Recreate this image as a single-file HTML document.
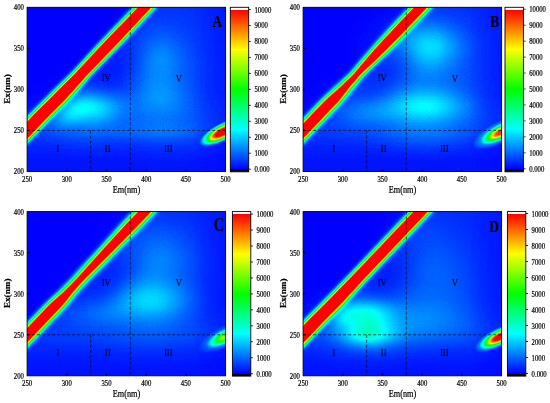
<!DOCTYPE html>
<html><head><meta charset="utf-8"><title>EEM fluorescence spectra</title>
<style>
html,body{margin:0;padding:0;background:#fff}
svg{display:block}
text{font-family:"Liberation Serif",serif;fill:#000;stroke:#000;stroke-width:0.22px}
.tk text{font-size:8px}
.xl{font-size:9.8px}
.yl{font-size:9.2px;font-weight:bold}
.rg text{font-size:10.3px;stroke-width:0.08px}
.pl{font-size:17px;font-weight:bold;stroke-width:0.1px}
</style></head><body>
<svg width="550" height="403" viewBox="0 0 550 403">
<defs>
<filter id="cm" filterUnits="userSpaceOnUse" x="-20" y="-30" width="300" height="250" color-interpolation-filters="sRGB">
<feComponentTransfer>
<feFuncR type="table" tableValues="0 0 0 1 1"/>
<feFuncG type="table" tableValues="0 1 1 1 0"/>
<feFuncB type="table" tableValues="1 1 0 0 0"/>
<feFuncA type="linear" slope="0" intercept="1"/>
</feComponentTransfer>
</filter>
<filter id="bf" filterUnits="userSpaceOnUse" x="-20" y="-30" width="300" height="250" color-interpolation-filters="sRGB">
<feGaussianBlur stdDeviation="1.9"/>
<feComponentTransfer><feFuncA type="linear" slope="1.5"/></feComponentTransfer>
</filter>
<linearGradient id="dkb" x1="0" y1="0" x2="0" y2="1"><stop offset="0" stop-color="#000" stop-opacity="0"/><stop offset="0.6" stop-color="#000" stop-opacity="0.5"/><stop offset="1" stop-color="#000" stop-opacity="0.6"/></linearGradient>
<linearGradient id="dkr" x1="0" y1="0" x2="1" y2="0"><stop offset="0" stop-color="#000" stop-opacity="0"/><stop offset="0.8" stop-color="#000" stop-opacity="0.4"/><stop offset="1" stop-color="#000" stop-opacity="0.4"/></linearGradient>
<clipPath id="plotclip"><rect x="27.1" y="7.3" width="198.5" height="164.2"/></clipPath>
<linearGradient id="cbA" x1="0" y1="0" x2="0" y2="1"><stop offset="0.0000" stop-color="#fff"/><stop offset="0.0152" stop-color="#fff"/><stop offset="0.0152" stop-color="#f00"/><stop offset="0.2561" stop-color="#ff0"/><stop offset="0.4988" stop-color="#0f0"/><stop offset="0.7415" stop-color="#0ff"/><stop offset="0.9842" stop-color="#00f"/><stop offset="0.9842" stop-color="#000"/><stop offset="1.0000" stop-color="#000"/></linearGradient>
<linearGradient id="cbB" x1="0" y1="0" x2="0" y2="1"><stop offset="0.0000" stop-color="#fff"/><stop offset="0.0134" stop-color="#fff"/><stop offset="0.0134" stop-color="#f00"/><stop offset="0.2541" stop-color="#ff0"/><stop offset="0.4967" stop-color="#0f0"/><stop offset="0.7392" stop-color="#0ff"/><stop offset="0.9818" stop-color="#00f"/><stop offset="0.9818" stop-color="#000"/><stop offset="1.0000" stop-color="#000"/></linearGradient>
<linearGradient id="cbC" x1="0" y1="0" x2="0" y2="1"><stop offset="0.0000" stop-color="#fff"/><stop offset="0.0170" stop-color="#fff"/><stop offset="0.0170" stop-color="#f00"/><stop offset="0.2578" stop-color="#ff0"/><stop offset="0.5003" stop-color="#0f0"/><stop offset="0.7429" stop-color="#0ff"/><stop offset="0.9854" stop-color="#00f"/><stop offset="0.9854" stop-color="#000"/><stop offset="1.0000" stop-color="#000"/></linearGradient>
<linearGradient id="cbD" x1="0" y1="0" x2="0" y2="1"><stop offset="0.0000" stop-color="#fff"/><stop offset="0.0134" stop-color="#fff"/><stop offset="0.0134" stop-color="#f00"/><stop offset="0.2547" stop-color="#ff0"/><stop offset="0.4979" stop-color="#0f0"/><stop offset="0.7410" stop-color="#0ff"/><stop offset="0.9842" stop-color="#00f"/><stop offset="0.9842" stop-color="#000"/><stop offset="1.0000" stop-color="#000"/></linearGradient>

<radialGradient id="g1"><stop offset="0" stop-color="#fff" stop-opacity="0.035"/><stop offset="0.1" stop-color="#fff" stop-opacity="0.0338"/><stop offset="0.2" stop-color="#fff" stop-opacity="0.0304"/><stop offset="0.3" stop-color="#fff" stop-opacity="0.0255"/><stop offset="0.4" stop-color="#fff" stop-opacity="0.0199"/><stop offset="0.5" stop-color="#fff" stop-opacity="0.0143"/><stop offset="0.6" stop-color="#fff" stop-opacity="0.0095"/><stop offset="0.7" stop-color="#fff" stop-opacity="0.0057"/><stop offset="0.8" stop-color="#fff" stop-opacity="0.0029"/><stop offset="0.9" stop-color="#fff" stop-opacity="0.0011"/><stop offset="1" stop-color="#fff" stop-opacity="0"/></radialGradient>
<radialGradient id="g2"><stop offset="0" stop-color="#fff" stop-opacity="0.07"/><stop offset="0.1" stop-color="#fff" stop-opacity="0.0676"/><stop offset="0.2" stop-color="#fff" stop-opacity="0.0608"/><stop offset="0.3" stop-color="#fff" stop-opacity="0.051"/><stop offset="0.4" stop-color="#fff" stop-opacity="0.0397"/><stop offset="0.5" stop-color="#fff" stop-opacity="0.0287"/><stop offset="0.6" stop-color="#fff" stop-opacity="0.019"/><stop offset="0.7" stop-color="#fff" stop-opacity="0.0114"/><stop offset="0.8" stop-color="#fff" stop-opacity="0.0059"/><stop offset="0.9" stop-color="#fff" stop-opacity="0.0022"/><stop offset="1" stop-color="#fff" stop-opacity="0"/></radialGradient>
<radialGradient id="g3"><stop offset="0" stop-color="#fff" stop-opacity="0.16"/><stop offset="0.1" stop-color="#fff" stop-opacity="0.1545"/><stop offset="0.2" stop-color="#fff" stop-opacity="0.1391"/><stop offset="0.3" stop-color="#fff" stop-opacity="0.1166"/><stop offset="0.4" stop-color="#fff" stop-opacity="0.0908"/><stop offset="0.5" stop-color="#fff" stop-opacity="0.0655"/><stop offset="0.6" stop-color="#fff" stop-opacity="0.0434"/><stop offset="0.7" stop-color="#fff" stop-opacity="0.026"/><stop offset="0.8" stop-color="#fff" stop-opacity="0.0134"/><stop offset="0.9" stop-color="#fff" stop-opacity="0.0051"/><stop offset="1" stop-color="#fff" stop-opacity="0"/></radialGradient>
<radialGradient id="g4"><stop offset="0" stop-color="#fff" stop-opacity="0.08"/><stop offset="0.1" stop-color="#fff" stop-opacity="0.0772"/><stop offset="0.2" stop-color="#fff" stop-opacity="0.0695"/><stop offset="0.3" stop-color="#fff" stop-opacity="0.0583"/><stop offset="0.4" stop-color="#fff" stop-opacity="0.0454"/><stop offset="0.5" stop-color="#fff" stop-opacity="0.0328"/><stop offset="0.6" stop-color="#fff" stop-opacity="0.0217"/><stop offset="0.7" stop-color="#fff" stop-opacity="0.013"/><stop offset="0.8" stop-color="#fff" stop-opacity="0.0067"/><stop offset="0.9" stop-color="#fff" stop-opacity="0.0025"/><stop offset="1" stop-color="#fff" stop-opacity="0"/></radialGradient>
<radialGradient id="g5"><stop offset="0" stop-color="#fff" stop-opacity="0.05"/><stop offset="0.1" stop-color="#fff" stop-opacity="0.0483"/><stop offset="0.2" stop-color="#fff" stop-opacity="0.0435"/><stop offset="0.3" stop-color="#fff" stop-opacity="0.0364"/><stop offset="0.4" stop-color="#fff" stop-opacity="0.0284"/><stop offset="0.5" stop-color="#fff" stop-opacity="0.0205"/><stop offset="0.6" stop-color="#fff" stop-opacity="0.0136"/><stop offset="0.7" stop-color="#fff" stop-opacity="0.0081"/><stop offset="0.8" stop-color="#fff" stop-opacity="0.0042"/><stop offset="0.9" stop-color="#fff" stop-opacity="0.0016"/><stop offset="1" stop-color="#fff" stop-opacity="0"/></radialGradient>
<radialGradient id="g6"><stop offset="0" stop-color="#fff" stop-opacity="0.065"/><stop offset="0.1" stop-color="#fff" stop-opacity="0.0628"/><stop offset="0.2" stop-color="#fff" stop-opacity="0.0565"/><stop offset="0.3" stop-color="#fff" stop-opacity="0.0474"/><stop offset="0.4" stop-color="#fff" stop-opacity="0.0369"/><stop offset="0.5" stop-color="#fff" stop-opacity="0.0266"/><stop offset="0.6" stop-color="#fff" stop-opacity="0.0176"/><stop offset="0.7" stop-color="#fff" stop-opacity="0.0106"/><stop offset="0.8" stop-color="#fff" stop-opacity="0.0054"/><stop offset="0.9" stop-color="#fff" stop-opacity="0.0021"/><stop offset="1" stop-color="#fff" stop-opacity="0"/></radialGradient>
<radialGradient id="g7"><stop offset="0" stop-color="#fff" stop-opacity="0.065"/><stop offset="0.1" stop-color="#fff" stop-opacity="0.0628"/><stop offset="0.2" stop-color="#fff" stop-opacity="0.0565"/><stop offset="0.3" stop-color="#fff" stop-opacity="0.0474"/><stop offset="0.4" stop-color="#fff" stop-opacity="0.0369"/><stop offset="0.5" stop-color="#fff" stop-opacity="0.0266"/><stop offset="0.6" stop-color="#fff" stop-opacity="0.0176"/><stop offset="0.7" stop-color="#fff" stop-opacity="0.0106"/><stop offset="0.8" stop-color="#fff" stop-opacity="0.0054"/><stop offset="0.9" stop-color="#fff" stop-opacity="0.0021"/><stop offset="1" stop-color="#fff" stop-opacity="0"/></radialGradient>
<radialGradient id="g8"><stop offset="0" stop-color="#fff" stop-opacity="0.03"/><stop offset="0.1" stop-color="#fff" stop-opacity="0.029"/><stop offset="0.2" stop-color="#fff" stop-opacity="0.0261"/><stop offset="0.3" stop-color="#fff" stop-opacity="0.0219"/><stop offset="0.4" stop-color="#fff" stop-opacity="0.017"/><stop offset="0.5" stop-color="#fff" stop-opacity="0.0123"/><stop offset="0.6" stop-color="#fff" stop-opacity="0.0081"/><stop offset="0.7" stop-color="#fff" stop-opacity="0.0049"/><stop offset="0.8" stop-color="#fff" stop-opacity="0.0025"/><stop offset="0.9" stop-color="#fff" stop-opacity="0.001"/><stop offset="1" stop-color="#fff" stop-opacity="0"/></radialGradient>
<radialGradient id="g9"><stop offset="0" stop-color="#000" stop-opacity="0.4"/><stop offset="0.1" stop-color="#000" stop-opacity="0.3862"/><stop offset="0.2" stop-color="#000" stop-opacity="0.3476"/><stop offset="0.3" stop-color="#000" stop-opacity="0.2914"/><stop offset="0.4" stop-color="#000" stop-opacity="0.227"/><stop offset="0.5" stop-color="#000" stop-opacity="0.1638"/><stop offset="0.6" stop-color="#000" stop-opacity="0.1085"/><stop offset="0.7" stop-color="#000" stop-opacity="0.0649"/><stop offset="0.8" stop-color="#000" stop-opacity="0.0335"/><stop offset="0.9" stop-color="#000" stop-opacity="0.0127"/><stop offset="1" stop-color="#000" stop-opacity="0"/></radialGradient>
<radialGradient id="g10"><stop offset="0" stop-color="#fff" stop-opacity="1"/><stop offset="0.32" stop-color="#fff" stop-opacity="1"/><stop offset="0.44" stop-color="#fff" stop-opacity="0.86"/><stop offset="0.56" stop-color="#fff" stop-opacity="0.62"/><stop offset="0.68" stop-color="#fff" stop-opacity="0.4"/><stop offset="0.8" stop-color="#fff" stop-opacity="0.22"/><stop offset="0.9" stop-color="#fff" stop-opacity="0.1"/><stop offset="1" stop-color="#fff" stop-opacity="0"/></radialGradient>
<radialGradient id="g11"><stop offset="0" stop-color="#fff" stop-opacity="0.03"/><stop offset="0.1" stop-color="#fff" stop-opacity="0.029"/><stop offset="0.2" stop-color="#fff" stop-opacity="0.0261"/><stop offset="0.3" stop-color="#fff" stop-opacity="0.0219"/><stop offset="0.4" stop-color="#fff" stop-opacity="0.017"/><stop offset="0.5" stop-color="#fff" stop-opacity="0.0123"/><stop offset="0.6" stop-color="#fff" stop-opacity="0.0081"/><stop offset="0.7" stop-color="#fff" stop-opacity="0.0049"/><stop offset="0.8" stop-color="#fff" stop-opacity="0.0025"/><stop offset="0.9" stop-color="#fff" stop-opacity="0.001"/><stop offset="1" stop-color="#fff" stop-opacity="0"/></radialGradient>
<radialGradient id="g12"><stop offset="0" stop-color="#fff" stop-opacity="0.03"/><stop offset="0.1" stop-color="#fff" stop-opacity="0.029"/><stop offset="0.2" stop-color="#fff" stop-opacity="0.0261"/><stop offset="0.3" stop-color="#fff" stop-opacity="0.0219"/><stop offset="0.4" stop-color="#fff" stop-opacity="0.017"/><stop offset="0.5" stop-color="#fff" stop-opacity="0.0123"/><stop offset="0.6" stop-color="#fff" stop-opacity="0.0081"/><stop offset="0.7" stop-color="#fff" stop-opacity="0.0049"/><stop offset="0.8" stop-color="#fff" stop-opacity="0.0025"/><stop offset="0.9" stop-color="#fff" stop-opacity="0.001"/><stop offset="1" stop-color="#fff" stop-opacity="0"/></radialGradient>
<radialGradient id="g13"><stop offset="0" stop-color="#fff" stop-opacity="0.065"/><stop offset="0.1" stop-color="#fff" stop-opacity="0.0628"/><stop offset="0.2" stop-color="#fff" stop-opacity="0.0565"/><stop offset="0.3" stop-color="#fff" stop-opacity="0.0474"/><stop offset="0.4" stop-color="#fff" stop-opacity="0.0369"/><stop offset="0.5" stop-color="#fff" stop-opacity="0.0266"/><stop offset="0.6" stop-color="#fff" stop-opacity="0.0176"/><stop offset="0.7" stop-color="#fff" stop-opacity="0.0106"/><stop offset="0.8" stop-color="#fff" stop-opacity="0.0054"/><stop offset="0.9" stop-color="#fff" stop-opacity="0.0021"/><stop offset="1" stop-color="#fff" stop-opacity="0"/></radialGradient>
<radialGradient id="g14"><stop offset="0" stop-color="#fff" stop-opacity="0.13"/><stop offset="0.1" stop-color="#fff" stop-opacity="0.1255"/><stop offset="0.2" stop-color="#fff" stop-opacity="0.113"/><stop offset="0.3" stop-color="#fff" stop-opacity="0.0947"/><stop offset="0.4" stop-color="#fff" stop-opacity="0.0738"/><stop offset="0.5" stop-color="#fff" stop-opacity="0.0532"/><stop offset="0.6" stop-color="#fff" stop-opacity="0.0353"/><stop offset="0.7" stop-color="#fff" stop-opacity="0.0211"/><stop offset="0.8" stop-color="#fff" stop-opacity="0.0109"/><stop offset="0.9" stop-color="#fff" stop-opacity="0.0041"/><stop offset="1" stop-color="#fff" stop-opacity="0"/></radialGradient>
<radialGradient id="g15"><stop offset="0" stop-color="#fff" stop-opacity="0.07"/><stop offset="0.1" stop-color="#fff" stop-opacity="0.0676"/><stop offset="0.2" stop-color="#fff" stop-opacity="0.0608"/><stop offset="0.3" stop-color="#fff" stop-opacity="0.051"/><stop offset="0.4" stop-color="#fff" stop-opacity="0.0397"/><stop offset="0.5" stop-color="#fff" stop-opacity="0.0287"/><stop offset="0.6" stop-color="#fff" stop-opacity="0.019"/><stop offset="0.7" stop-color="#fff" stop-opacity="0.0114"/><stop offset="0.8" stop-color="#fff" stop-opacity="0.0059"/><stop offset="0.9" stop-color="#fff" stop-opacity="0.0022"/><stop offset="1" stop-color="#fff" stop-opacity="0"/></radialGradient>
<radialGradient id="g16"><stop offset="0" stop-color="#fff" stop-opacity="0.13"/><stop offset="0.1" stop-color="#fff" stop-opacity="0.1255"/><stop offset="0.2" stop-color="#fff" stop-opacity="0.113"/><stop offset="0.3" stop-color="#fff" stop-opacity="0.0947"/><stop offset="0.4" stop-color="#fff" stop-opacity="0.0738"/><stop offset="0.5" stop-color="#fff" stop-opacity="0.0532"/><stop offset="0.6" stop-color="#fff" stop-opacity="0.0353"/><stop offset="0.7" stop-color="#fff" stop-opacity="0.0211"/><stop offset="0.8" stop-color="#fff" stop-opacity="0.0109"/><stop offset="0.9" stop-color="#fff" stop-opacity="0.0041"/><stop offset="1" stop-color="#fff" stop-opacity="0"/></radialGradient>
<radialGradient id="g17"><stop offset="0" stop-color="#fff" stop-opacity="0.05"/><stop offset="0.1" stop-color="#fff" stop-opacity="0.0483"/><stop offset="0.2" stop-color="#fff" stop-opacity="0.0435"/><stop offset="0.3" stop-color="#fff" stop-opacity="0.0364"/><stop offset="0.4" stop-color="#fff" stop-opacity="0.0284"/><stop offset="0.5" stop-color="#fff" stop-opacity="0.0205"/><stop offset="0.6" stop-color="#fff" stop-opacity="0.0136"/><stop offset="0.7" stop-color="#fff" stop-opacity="0.0081"/><stop offset="0.8" stop-color="#fff" stop-opacity="0.0042"/><stop offset="0.9" stop-color="#fff" stop-opacity="0.0016"/><stop offset="1" stop-color="#fff" stop-opacity="0"/></radialGradient>
<radialGradient id="g18"><stop offset="0" stop-color="#fff" stop-opacity="0.03"/><stop offset="0.1" stop-color="#fff" stop-opacity="0.029"/><stop offset="0.2" stop-color="#fff" stop-opacity="0.0261"/><stop offset="0.3" stop-color="#fff" stop-opacity="0.0219"/><stop offset="0.4" stop-color="#fff" stop-opacity="0.017"/><stop offset="0.5" stop-color="#fff" stop-opacity="0.0123"/><stop offset="0.6" stop-color="#fff" stop-opacity="0.0081"/><stop offset="0.7" stop-color="#fff" stop-opacity="0.0049"/><stop offset="0.8" stop-color="#fff" stop-opacity="0.0025"/><stop offset="0.9" stop-color="#fff" stop-opacity="0.001"/><stop offset="1" stop-color="#fff" stop-opacity="0"/></radialGradient>
<radialGradient id="g19"><stop offset="0" stop-color="#000" stop-opacity="0.4"/><stop offset="0.1" stop-color="#000" stop-opacity="0.3862"/><stop offset="0.2" stop-color="#000" stop-opacity="0.3476"/><stop offset="0.3" stop-color="#000" stop-opacity="0.2914"/><stop offset="0.4" stop-color="#000" stop-opacity="0.227"/><stop offset="0.5" stop-color="#000" stop-opacity="0.1638"/><stop offset="0.6" stop-color="#000" stop-opacity="0.1085"/><stop offset="0.7" stop-color="#000" stop-opacity="0.0649"/><stop offset="0.8" stop-color="#000" stop-opacity="0.0335"/><stop offset="0.9" stop-color="#000" stop-opacity="0.0127"/><stop offset="1" stop-color="#000" stop-opacity="0"/></radialGradient>
<radialGradient id="g20"><stop offset="0" stop-color="#fff" stop-opacity="0.95"/><stop offset="0.14" stop-color="#fff" stop-opacity="0.95"/><stop offset="0.26" stop-color="#fff" stop-opacity="0.82"/><stop offset="0.38" stop-color="#fff" stop-opacity="0.59"/><stop offset="0.5" stop-color="#fff" stop-opacity="0.38"/><stop offset="0.62" stop-color="#fff" stop-opacity="0.21"/><stop offset="0.72" stop-color="#fff" stop-opacity="0.1"/><stop offset="1" stop-color="#fff" stop-opacity="0"/></radialGradient>
<radialGradient id="g21"><stop offset="0" stop-color="#fff" stop-opacity="0.03"/><stop offset="0.1" stop-color="#fff" stop-opacity="0.029"/><stop offset="0.2" stop-color="#fff" stop-opacity="0.0261"/><stop offset="0.3" stop-color="#fff" stop-opacity="0.0219"/><stop offset="0.4" stop-color="#fff" stop-opacity="0.017"/><stop offset="0.5" stop-color="#fff" stop-opacity="0.0123"/><stop offset="0.6" stop-color="#fff" stop-opacity="0.0081"/><stop offset="0.7" stop-color="#fff" stop-opacity="0.0049"/><stop offset="0.8" stop-color="#fff" stop-opacity="0.0025"/><stop offset="0.9" stop-color="#fff" stop-opacity="0.001"/><stop offset="1" stop-color="#fff" stop-opacity="0"/></radialGradient>
<radialGradient id="g22"><stop offset="0" stop-color="#fff" stop-opacity="0.045"/><stop offset="0.1" stop-color="#fff" stop-opacity="0.0435"/><stop offset="0.2" stop-color="#fff" stop-opacity="0.0391"/><stop offset="0.3" stop-color="#fff" stop-opacity="0.0328"/><stop offset="0.4" stop-color="#fff" stop-opacity="0.0255"/><stop offset="0.5" stop-color="#fff" stop-opacity="0.0184"/><stop offset="0.6" stop-color="#fff" stop-opacity="0.0122"/><stop offset="0.7" stop-color="#fff" stop-opacity="0.0073"/><stop offset="0.8" stop-color="#fff" stop-opacity="0.0038"/><stop offset="0.9" stop-color="#fff" stop-opacity="0.0014"/><stop offset="1" stop-color="#fff" stop-opacity="0"/></radialGradient>
<radialGradient id="g23"><stop offset="0" stop-color="#fff" stop-opacity="0.06"/><stop offset="0.1" stop-color="#fff" stop-opacity="0.0579"/><stop offset="0.2" stop-color="#fff" stop-opacity="0.0521"/><stop offset="0.3" stop-color="#fff" stop-opacity="0.0437"/><stop offset="0.4" stop-color="#fff" stop-opacity="0.0341"/><stop offset="0.5" stop-color="#fff" stop-opacity="0.0246"/><stop offset="0.6" stop-color="#fff" stop-opacity="0.0163"/><stop offset="0.7" stop-color="#fff" stop-opacity="0.0097"/><stop offset="0.8" stop-color="#fff" stop-opacity="0.005"/><stop offset="0.9" stop-color="#fff" stop-opacity="0.0019"/><stop offset="1" stop-color="#fff" stop-opacity="0"/></radialGradient>
<radialGradient id="g24"><stop offset="0" stop-color="#fff" stop-opacity="0.14"/><stop offset="0.1" stop-color="#fff" stop-opacity="0.1352"/><stop offset="0.2" stop-color="#fff" stop-opacity="0.1217"/><stop offset="0.3" stop-color="#fff" stop-opacity="0.102"/><stop offset="0.4" stop-color="#fff" stop-opacity="0.0795"/><stop offset="0.5" stop-color="#fff" stop-opacity="0.0573"/><stop offset="0.6" stop-color="#fff" stop-opacity="0.038"/><stop offset="0.7" stop-color="#fff" stop-opacity="0.0227"/><stop offset="0.8" stop-color="#fff" stop-opacity="0.0117"/><stop offset="0.9" stop-color="#fff" stop-opacity="0.0044"/><stop offset="1" stop-color="#fff" stop-opacity="0"/></radialGradient>
<radialGradient id="g25"><stop offset="0" stop-color="#fff" stop-opacity="0.055"/><stop offset="0.1" stop-color="#fff" stop-opacity="0.0531"/><stop offset="0.2" stop-color="#fff" stop-opacity="0.0478"/><stop offset="0.3" stop-color="#fff" stop-opacity="0.0401"/><stop offset="0.4" stop-color="#fff" stop-opacity="0.0312"/><stop offset="0.5" stop-color="#fff" stop-opacity="0.0225"/><stop offset="0.6" stop-color="#fff" stop-opacity="0.0149"/><stop offset="0.7" stop-color="#fff" stop-opacity="0.0089"/><stop offset="0.8" stop-color="#fff" stop-opacity="0.0046"/><stop offset="0.9" stop-color="#fff" stop-opacity="0.0017"/><stop offset="1" stop-color="#fff" stop-opacity="0"/></radialGradient>
<radialGradient id="g26"><stop offset="0" stop-color="#000" stop-opacity="0.4"/><stop offset="0.1" stop-color="#000" stop-opacity="0.3862"/><stop offset="0.2" stop-color="#000" stop-opacity="0.3476"/><stop offset="0.3" stop-color="#000" stop-opacity="0.2914"/><stop offset="0.4" stop-color="#000" stop-opacity="0.227"/><stop offset="0.5" stop-color="#000" stop-opacity="0.1638"/><stop offset="0.6" stop-color="#000" stop-opacity="0.1085"/><stop offset="0.7" stop-color="#000" stop-opacity="0.0649"/><stop offset="0.8" stop-color="#000" stop-opacity="0.0335"/><stop offset="0.9" stop-color="#000" stop-opacity="0.0127"/><stop offset="1" stop-color="#000" stop-opacity="0"/></radialGradient>
<radialGradient id="g27"><stop offset="0" stop-color="#fff" stop-opacity="0.62"/><stop offset="0.12" stop-color="#fff" stop-opacity="0.62"/><stop offset="0.24" stop-color="#fff" stop-opacity="0.53"/><stop offset="0.36" stop-color="#fff" stop-opacity="0.38"/><stop offset="0.48" stop-color="#fff" stop-opacity="0.25"/><stop offset="0.6" stop-color="#fff" stop-opacity="0.14"/><stop offset="0.7" stop-color="#fff" stop-opacity="0.06"/><stop offset="1" stop-color="#fff" stop-opacity="0"/></radialGradient>
<radialGradient id="g28"><stop offset="0" stop-color="#fff" stop-opacity="0.03"/><stop offset="0.1" stop-color="#fff" stop-opacity="0.029"/><stop offset="0.2" stop-color="#fff" stop-opacity="0.0261"/><stop offset="0.3" stop-color="#fff" stop-opacity="0.0219"/><stop offset="0.4" stop-color="#fff" stop-opacity="0.017"/><stop offset="0.5" stop-color="#fff" stop-opacity="0.0123"/><stop offset="0.6" stop-color="#fff" stop-opacity="0.0081"/><stop offset="0.7" stop-color="#fff" stop-opacity="0.0049"/><stop offset="0.8" stop-color="#fff" stop-opacity="0.0025"/><stop offset="0.9" stop-color="#fff" stop-opacity="0.001"/><stop offset="1" stop-color="#fff" stop-opacity="0"/></radialGradient>
<radialGradient id="g29"><stop offset="0" stop-color="#fff" stop-opacity="0.1"/><stop offset="0.1" stop-color="#fff" stop-opacity="0.0966"/><stop offset="0.2" stop-color="#fff" stop-opacity="0.0869"/><stop offset="0.3" stop-color="#fff" stop-opacity="0.0728"/><stop offset="0.4" stop-color="#fff" stop-opacity="0.0568"/><stop offset="0.5" stop-color="#fff" stop-opacity="0.0409"/><stop offset="0.6" stop-color="#fff" stop-opacity="0.0271"/><stop offset="0.7" stop-color="#fff" stop-opacity="0.0162"/><stop offset="0.8" stop-color="#fff" stop-opacity="0.0084"/><stop offset="0.9" stop-color="#fff" stop-opacity="0.0032"/><stop offset="1" stop-color="#fff" stop-opacity="0"/></radialGradient>
<radialGradient id="g30"><stop offset="0" stop-color="#fff" stop-opacity="0.14"/><stop offset="0.1" stop-color="#fff" stop-opacity="0.1352"/><stop offset="0.2" stop-color="#fff" stop-opacity="0.1217"/><stop offset="0.3" stop-color="#fff" stop-opacity="0.102"/><stop offset="0.4" stop-color="#fff" stop-opacity="0.0795"/><stop offset="0.5" stop-color="#fff" stop-opacity="0.0573"/><stop offset="0.6" stop-color="#fff" stop-opacity="0.038"/><stop offset="0.7" stop-color="#fff" stop-opacity="0.0227"/><stop offset="0.8" stop-color="#fff" stop-opacity="0.0117"/><stop offset="0.9" stop-color="#fff" stop-opacity="0.0044"/><stop offset="1" stop-color="#fff" stop-opacity="0"/></radialGradient>
<radialGradient id="g31"><stop offset="0" stop-color="#fff" stop-opacity="0.16"/><stop offset="0.1" stop-color="#fff" stop-opacity="0.1545"/><stop offset="0.2" stop-color="#fff" stop-opacity="0.1391"/><stop offset="0.3" stop-color="#fff" stop-opacity="0.1166"/><stop offset="0.4" stop-color="#fff" stop-opacity="0.0908"/><stop offset="0.5" stop-color="#fff" stop-opacity="0.0655"/><stop offset="0.6" stop-color="#fff" stop-opacity="0.0434"/><stop offset="0.7" stop-color="#fff" stop-opacity="0.026"/><stop offset="0.8" stop-color="#fff" stop-opacity="0.0134"/><stop offset="0.9" stop-color="#fff" stop-opacity="0.0051"/><stop offset="1" stop-color="#fff" stop-opacity="0"/></radialGradient>
<radialGradient id="g32"><stop offset="0" stop-color="#fff" stop-opacity="0.05"/><stop offset="0.1" stop-color="#fff" stop-opacity="0.0483"/><stop offset="0.2" stop-color="#fff" stop-opacity="0.0435"/><stop offset="0.3" stop-color="#fff" stop-opacity="0.0364"/><stop offset="0.4" stop-color="#fff" stop-opacity="0.0284"/><stop offset="0.5" stop-color="#fff" stop-opacity="0.0205"/><stop offset="0.6" stop-color="#fff" stop-opacity="0.0136"/><stop offset="0.7" stop-color="#fff" stop-opacity="0.0081"/><stop offset="0.8" stop-color="#fff" stop-opacity="0.0042"/><stop offset="0.9" stop-color="#fff" stop-opacity="0.0016"/><stop offset="1" stop-color="#fff" stop-opacity="0"/></radialGradient>
<radialGradient id="g33"><stop offset="0" stop-color="#fff" stop-opacity="0.08"/><stop offset="0.1" stop-color="#fff" stop-opacity="0.0772"/><stop offset="0.2" stop-color="#fff" stop-opacity="0.0695"/><stop offset="0.3" stop-color="#fff" stop-opacity="0.0583"/><stop offset="0.4" stop-color="#fff" stop-opacity="0.0454"/><stop offset="0.5" stop-color="#fff" stop-opacity="0.0328"/><stop offset="0.6" stop-color="#fff" stop-opacity="0.0217"/><stop offset="0.7" stop-color="#fff" stop-opacity="0.013"/><stop offset="0.8" stop-color="#fff" stop-opacity="0.0067"/><stop offset="0.9" stop-color="#fff" stop-opacity="0.0025"/><stop offset="1" stop-color="#fff" stop-opacity="0"/></radialGradient>
<radialGradient id="g34"><stop offset="0" stop-color="#fff" stop-opacity="0.06"/><stop offset="0.1" stop-color="#fff" stop-opacity="0.0579"/><stop offset="0.2" stop-color="#fff" stop-opacity="0.0521"/><stop offset="0.3" stop-color="#fff" stop-opacity="0.0437"/><stop offset="0.4" stop-color="#fff" stop-opacity="0.0341"/><stop offset="0.5" stop-color="#fff" stop-opacity="0.0246"/><stop offset="0.6" stop-color="#fff" stop-opacity="0.0163"/><stop offset="0.7" stop-color="#fff" stop-opacity="0.0097"/><stop offset="0.8" stop-color="#fff" stop-opacity="0.005"/><stop offset="0.9" stop-color="#fff" stop-opacity="0.0019"/><stop offset="1" stop-color="#fff" stop-opacity="0"/></radialGradient>
<radialGradient id="g35"><stop offset="0" stop-color="#fff" stop-opacity="0.035"/><stop offset="0.1" stop-color="#fff" stop-opacity="0.0338"/><stop offset="0.2" stop-color="#fff" stop-opacity="0.0304"/><stop offset="0.3" stop-color="#fff" stop-opacity="0.0255"/><stop offset="0.4" stop-color="#fff" stop-opacity="0.0199"/><stop offset="0.5" stop-color="#fff" stop-opacity="0.0143"/><stop offset="0.6" stop-color="#fff" stop-opacity="0.0095"/><stop offset="0.7" stop-color="#fff" stop-opacity="0.0057"/><stop offset="0.8" stop-color="#fff" stop-opacity="0.0029"/><stop offset="0.9" stop-color="#fff" stop-opacity="0.0011"/><stop offset="1" stop-color="#fff" stop-opacity="0"/></radialGradient>
<radialGradient id="g36"><stop offset="0" stop-color="#000" stop-opacity="0.4"/><stop offset="0.1" stop-color="#000" stop-opacity="0.3862"/><stop offset="0.2" stop-color="#000" stop-opacity="0.3476"/><stop offset="0.3" stop-color="#000" stop-opacity="0.2914"/><stop offset="0.4" stop-color="#000" stop-opacity="0.227"/><stop offset="0.5" stop-color="#000" stop-opacity="0.1638"/><stop offset="0.6" stop-color="#000" stop-opacity="0.1085"/><stop offset="0.7" stop-color="#000" stop-opacity="0.0649"/><stop offset="0.8" stop-color="#000" stop-opacity="0.0335"/><stop offset="0.9" stop-color="#000" stop-opacity="0.0127"/><stop offset="1" stop-color="#000" stop-opacity="0"/></radialGradient>
<radialGradient id="g37"><stop offset="0" stop-color="#fff" stop-opacity="1"/><stop offset="0.24" stop-color="#fff" stop-opacity="1"/><stop offset="0.36" stop-color="#fff" stop-opacity="0.86"/><stop offset="0.48" stop-color="#fff" stop-opacity="0.62"/><stop offset="0.6" stop-color="#fff" stop-opacity="0.4"/><stop offset="0.72" stop-color="#fff" stop-opacity="0.22"/><stop offset="0.82" stop-color="#fff" stop-opacity="0.1"/><stop offset="1" stop-color="#fff" stop-opacity="0"/></radialGradient>
</defs>
<rect width="550" height="403" fill="#fff"/>
<g transform="translate(0 0)">
<g clip-path="url(#plotclip)"><g filter="url(#cm)">
<rect x="-20" y="-30" width="300" height="250" fill="#000"/>
<polygon points="170.6,-20 260,-20 260,200 -38.4,200" fill="#fff" fill-opacity="0.04"/>
<ellipse cx="130" cy="124" rx="247" ry="39" fill="url(#g1)"/>
<ellipse cx="88" cy="114" rx="70.2" ry="49.4" fill="url(#g2)"/>
<ellipse cx="91" cy="105.5" rx="46.8" ry="26" fill="url(#g3)"/>
<ellipse cx="70" cy="115" rx="33.8" ry="18.2" fill="url(#g4)" transform="rotate(-30 70 115)"/>
<ellipse cx="168" cy="82" rx="78" ry="119.6" fill="url(#g5)"/>
<ellipse cx="158" cy="60" rx="44.2" ry="49.4" fill="url(#g6)"/>
<ellipse cx="158" cy="98" rx="52" ry="33.8" fill="url(#g7)"/>
<ellipse cx="161" cy="132" rx="67.6" ry="18.2" fill="url(#g8)"/>
<ellipse cx="114" cy="70" rx="33.8" ry="67.6" fill="url(#g9)" transform="rotate(44 114 70)"/>
<rect x="20" y="134" width="215" height="45" fill="url(#dkb)"/>
<rect x="192" y="0" width="40" height="180" fill="url(#dkr)"/>
<g filter="url(#bf)">
<polygon points="159.65,-20 121.65,20 97.9,45 84.25,60 71.45,74 56.75,88 44.8,100 29.7,115 -51.05,200 -27.35,200 53.4,115 68.4,100 79.25,88 91.15,74 104.95,60 119.8,45 143.55,20 181.55,-20" fill="#fff" fill-opacity="0.2"/>
<polygon points="163.75,-20 125.75,20 101.45,45 87.5,60 74.45,74 60.35,88 48.4,100 33.25,115 -47.5,200 -30.9,200 49.85,115 64.8,100 75.65,88 88.15,74 101.7,60 116.25,45 139.45,20 177.45,-20" fill="#fff"/>
</g>
<ellipse cx="223" cy="131.8" rx="26.5" ry="9" fill="url(#g10)" transform="rotate(-27.5 223 131.8)"/>
</g></g>
<g stroke="#000" stroke-width="0.65" stroke-dasharray="3 2" fill="none">
<line x1="27.1" y1="130.45" x2="225.6" y2="130.45"/>
<line x1="130.32" y1="7.3" x2="130.32" y2="171.5"/>
<line x1="90.62" y1="130.45" x2="90.62" y2="171.5"/>
</g>
<g stroke="#000" stroke-width="0.9" fill="none">
<rect x="27.1" y="7.3" width="198.5" height="164.2"/>
<line x1="66.8" y1="171.5" x2="66.8" y2="169"/>
<line x1="106.5" y1="171.5" x2="106.5" y2="169"/>
<line x1="146.2" y1="171.5" x2="146.2" y2="169"/>
<line x1="185.9" y1="171.5" x2="185.9" y2="169"/>
<line x1="27.1" y1="130.45" x2="29.6" y2="130.45"/>
<line x1="27.1" y1="89.4" x2="29.6" y2="89.4"/>
<line x1="27.1" y1="48.35" x2="29.6" y2="48.35"/>
</g>
<g class="tk">
<text transform="translate(27.1 181.8) scale(0.84 1)" text-anchor="middle">250</text>
<text transform="translate(66.8 181.8) scale(0.84 1)" text-anchor="middle">300</text>
<text transform="translate(106.5 181.8) scale(0.84 1)" text-anchor="middle">350</text>
<text transform="translate(146.2 181.8) scale(0.84 1)" text-anchor="middle">400</text>
<text transform="translate(185.9 181.8) scale(0.84 1)" text-anchor="middle">450</text>
<text transform="translate(225.6 181.8) scale(0.84 1)" text-anchor="middle">500</text>
<text transform="translate(23.9 174.4) scale(0.84 1)" text-anchor="end">200</text>
<text transform="translate(23.9 133.35) scale(0.84 1)" text-anchor="end">250</text>
<text transform="translate(23.9 92.3) scale(0.84 1)" text-anchor="end">300</text>
<text transform="translate(23.9 51.25) scale(0.84 1)" text-anchor="end">350</text>
<text transform="translate(23.9 10.2) scale(0.84 1)" text-anchor="end">400</text>
</g>
<text class="xl" transform="translate(126.5 192.7) scale(0.84 1)" text-anchor="middle">Em(nm)</text>
<text class="yl" transform="translate(9.6 89) rotate(-90) scale(1 0.84)" text-anchor="middle">Ex(nm)</text>
<g class="rg">
<text transform="translate(58 151.8) scale(0.84 1)" text-anchor="middle">I</text>
<text transform="translate(107.7 151.8) scale(0.84 1)" text-anchor="middle">II</text>
<text transform="translate(168.2 151.8) scale(0.84 1)" text-anchor="middle">III</text>
<text transform="translate(106.3 81.4) scale(0.84 1)" text-anchor="middle">IV</text>
<text transform="translate(178.8 81.6) scale(0.84 1)" text-anchor="middle">V</text>
</g>
<text class="pl" style="font-size:17px" transform="translate(217.4 27.1) scale(0.79 1)" text-anchor="middle">A</text>
<rect x="230.3" y="7.3" width="18.4" height="164.5" fill="url(#cbA)"/>
<rect x="230.3" y="7.3" width="18.4" height="164.5" fill="none" stroke="#000" stroke-width="0.9"/>
<g stroke="#000" stroke-width="0.8">
<line x1="248.7" y1="9.5" x2="250.9" y2="9.5"/>
<line x1="248.7" y1="25.47" x2="250.9" y2="25.47"/>
<line x1="248.7" y1="41.44" x2="250.9" y2="41.44"/>
<line x1="248.7" y1="57.41" x2="250.9" y2="57.41"/>
<line x1="248.7" y1="73.38" x2="250.9" y2="73.38"/>
<line x1="248.7" y1="89.35" x2="250.9" y2="89.35"/>
<line x1="248.7" y1="105.32" x2="250.9" y2="105.32"/>
<line x1="248.7" y1="121.29" x2="250.9" y2="121.29"/>
<line x1="248.7" y1="137.26" x2="250.9" y2="137.26"/>
<line x1="248.7" y1="153.23" x2="250.9" y2="153.23"/>
<line x1="248.7" y1="169.2" x2="250.9" y2="169.2"/>
</g><g class="tk">
<text transform="translate(254.5 12.5) scale(0.84 1)" text-anchor="start">10000</text>
<text transform="translate(254.5 28.47) scale(0.84 1)" text-anchor="start">9000</text>
<text transform="translate(254.5 44.44) scale(0.84 1)" text-anchor="start">8000</text>
<text transform="translate(254.5 60.41) scale(0.84 1)" text-anchor="start">7000</text>
<text transform="translate(254.5 76.38) scale(0.84 1)" text-anchor="start">6000</text>
<text transform="translate(254.5 92.35) scale(0.84 1)" text-anchor="start">5000</text>
<text transform="translate(254.5 108.32) scale(0.84 1)" text-anchor="start">4000</text>
<text transform="translate(254.5 124.29) scale(0.84 1)" text-anchor="start">3000</text>
<text transform="translate(254.5 140.26) scale(0.84 1)" text-anchor="start">2000</text>
<text transform="translate(254.5 156.23) scale(0.84 1)" text-anchor="start">1000</text>
<text transform="translate(254.5 172.2) scale(0.84 1)" text-anchor="start">0.000</text>
</g>
</g><g transform="translate(276 0)">
<g clip-path="url(#plotclip)"><g filter="url(#cm)">
<rect x="-20" y="-30" width="300" height="250" fill="#000"/>
<polygon points="170.6,-20 260,-20 260,200 -38.4,200" fill="#fff" fill-opacity="0.04"/>
<ellipse cx="140" cy="126" rx="234" ry="36.4" fill="url(#g11)"/>
<ellipse cx="152" cy="78" rx="67.6" ry="109.2" fill="url(#g12)"/>
<ellipse cx="154" cy="52" rx="93.6" ry="67.6" fill="url(#g13)"/>
<ellipse cx="149" cy="46" rx="54.6" ry="36.4" fill="url(#g14)"/>
<ellipse cx="142" cy="106" rx="130" ry="52" fill="url(#g15)"/>
<ellipse cx="148" cy="106.5" rx="70.2" ry="27.3" fill="url(#g16)"/>
<ellipse cx="88" cy="111" rx="46.8" ry="23.4" fill="url(#g17)"/>
<ellipse cx="150" cy="140" rx="78" ry="26" fill="url(#g18)"/>
<ellipse cx="114" cy="70" rx="33.8" ry="67.6" fill="url(#g19)" transform="rotate(44 114 70)"/>
<rect x="20" y="134" width="215" height="45" fill="url(#dkb)"/>
<rect x="192" y="0" width="40" height="180" fill="url(#dkr)"/>
<g filter="url(#bf)">
<polygon points="159.35,-20 121.35,20 98.45,45 85.25,60 73.35,74 57.6,88 49.3,96 43.2,102 -49.75,200 -27.05,200 66.2,102 71.5,96 78.4,88 89.25,74 103.95,60 119.25,45 143.85,20 181.85,-20" fill="#fff" fill-opacity="0.2"/>
<polygon points="164.05,-20 126.05,20 102.55,45 89.4,60 77.75,74 63.3,88 54.1,96 47.6,102 -45.6,200 -31.2,200 61.8,102 66.7,96 72.7,88 84.85,74 99.8,60 115.15,45 139.15,20 177.15,-20" fill="#fff"/>
</g>
<ellipse cx="224.5" cy="132.2" rx="31" ry="11" fill="url(#g20)" transform="rotate(-27.5 224.5 132.2)"/>
</g></g>
<g stroke="#000" stroke-width="0.65" stroke-dasharray="3 2" fill="none">
<line x1="27.1" y1="130.45" x2="225.6" y2="130.45"/>
<line x1="130.32" y1="7.3" x2="130.32" y2="171.5"/>
<line x1="90.62" y1="130.45" x2="90.62" y2="171.5"/>
</g>
<g stroke="#000" stroke-width="0.9" fill="none">
<rect x="27.1" y="7.3" width="198.5" height="164.2"/>
<line x1="66.8" y1="171.5" x2="66.8" y2="169"/>
<line x1="106.5" y1="171.5" x2="106.5" y2="169"/>
<line x1="146.2" y1="171.5" x2="146.2" y2="169"/>
<line x1="185.9" y1="171.5" x2="185.9" y2="169"/>
<line x1="27.1" y1="130.45" x2="29.6" y2="130.45"/>
<line x1="27.1" y1="89.4" x2="29.6" y2="89.4"/>
<line x1="27.1" y1="48.35" x2="29.6" y2="48.35"/>
</g>
<g class="tk">
<text transform="translate(27.1 181.8) scale(0.84 1)" text-anchor="middle">250</text>
<text transform="translate(66.8 181.8) scale(0.84 1)" text-anchor="middle">300</text>
<text transform="translate(106.5 181.8) scale(0.84 1)" text-anchor="middle">350</text>
<text transform="translate(146.2 181.8) scale(0.84 1)" text-anchor="middle">400</text>
<text transform="translate(185.9 181.8) scale(0.84 1)" text-anchor="middle">450</text>
<text transform="translate(225.6 181.8) scale(0.84 1)" text-anchor="middle">500</text>
<text transform="translate(23.9 174.4) scale(0.84 1)" text-anchor="end">200</text>
<text transform="translate(23.9 133.35) scale(0.84 1)" text-anchor="end">250</text>
<text transform="translate(23.9 92.3) scale(0.84 1)" text-anchor="end">300</text>
<text transform="translate(23.9 51.25) scale(0.84 1)" text-anchor="end">350</text>
<text transform="translate(23.9 10.2) scale(0.84 1)" text-anchor="end">400</text>
</g>
<text class="xl" transform="translate(126.5 192.7) scale(0.84 1)" text-anchor="middle">Em(nm)</text>
<text class="yl" transform="translate(9.6 89) rotate(-90) scale(1 0.84)" text-anchor="middle">Ex(nm)</text>
<g class="rg">
<text transform="translate(58 151.8) scale(0.84 1)" text-anchor="middle">I</text>
<text transform="translate(107.7 151.8) scale(0.84 1)" text-anchor="middle">II</text>
<text transform="translate(168.2 151.8) scale(0.84 1)" text-anchor="middle">III</text>
<text transform="translate(106.3 81.4) scale(0.84 1)" text-anchor="middle">IV</text>
<text transform="translate(178.8 81.6) scale(0.84 1)" text-anchor="middle">V</text>
</g>
<text class="pl" style="font-size:17px" transform="translate(218.8 27.4) scale(0.79 1)" text-anchor="middle">B</text>
<rect x="229" y="7.3" width="18.4" height="164.5" fill="url(#cbB)"/>
<rect x="229" y="7.3" width="18.4" height="164.5" fill="none" stroke="#000" stroke-width="0.9"/>
<g stroke="#000" stroke-width="0.8">
<line x1="247.4" y1="9.2" x2="249.6" y2="9.2"/>
<line x1="247.4" y1="25.16" x2="249.6" y2="25.16"/>
<line x1="247.4" y1="41.12" x2="249.6" y2="41.12"/>
<line x1="247.4" y1="57.08" x2="249.6" y2="57.08"/>
<line x1="247.4" y1="73.04" x2="249.6" y2="73.04"/>
<line x1="247.4" y1="89" x2="249.6" y2="89"/>
<line x1="247.4" y1="104.96" x2="249.6" y2="104.96"/>
<line x1="247.4" y1="120.92" x2="249.6" y2="120.92"/>
<line x1="247.4" y1="136.88" x2="249.6" y2="136.88"/>
<line x1="247.4" y1="152.84" x2="249.6" y2="152.84"/>
<line x1="247.4" y1="168.8" x2="249.6" y2="168.8"/>
</g><g class="tk">
<text transform="translate(253.2 12.2) scale(0.84 1)" text-anchor="start">10000</text>
<text transform="translate(253.2 28.16) scale(0.84 1)" text-anchor="start">9000</text>
<text transform="translate(253.2 44.12) scale(0.84 1)" text-anchor="start">8000</text>
<text transform="translate(253.2 60.08) scale(0.84 1)" text-anchor="start">7000</text>
<text transform="translate(253.2 76.04) scale(0.84 1)" text-anchor="start">6000</text>
<text transform="translate(253.2 92) scale(0.84 1)" text-anchor="start">5000</text>
<text transform="translate(253.2 107.96) scale(0.84 1)" text-anchor="start">4000</text>
<text transform="translate(253.2 123.92) scale(0.84 1)" text-anchor="start">3000</text>
<text transform="translate(253.2 139.88) scale(0.84 1)" text-anchor="start">2000</text>
<text transform="translate(253.2 155.84) scale(0.84 1)" text-anchor="start">1000</text>
<text transform="translate(253.2 171.8) scale(0.84 1)" text-anchor="start">0.000</text>
</g>
</g><g transform="translate(0 204.3)">
<g clip-path="url(#plotclip)"><g filter="url(#cm)">
<rect x="-20" y="-30" width="300" height="250" fill="#000"/>
<polygon points="170.6,-20 260,-20 260,200 -38.4,200" fill="#fff" fill-opacity="0.04"/>
<ellipse cx="140" cy="128" rx="234" ry="33.8" fill="url(#g21)"/>
<ellipse cx="152" cy="80" rx="78" ry="114.4" fill="url(#g22)"/>
<ellipse cx="158" cy="55" rx="67.6" ry="57.2" fill="url(#g23)"/>
<ellipse cx="149.5" cy="97" rx="70.2" ry="35.1" fill="url(#g24)"/>
<ellipse cx="96" cy="108" rx="57.2" ry="26" fill="url(#g25)"/>
<ellipse cx="114" cy="70" rx="33.8" ry="67.6" fill="url(#g26)" transform="rotate(44 114 70)"/>
<rect x="20" y="134" width="215" height="45" fill="url(#dkb)"/>
<rect x="192" y="0" width="40" height="180" fill="url(#dkr)"/>
<g filter="url(#bf)">
<polygon points="158.85,-20 120.85,20 98.45,45 83.9,60 71.45,74 57.9,88 49.3,96 43.2,102 -49.75,200 -27.05,200 66.2,102 71.5,96 78.1,88 91.15,74 105.3,60 119.25,45 144.35,20 182.35,-20" fill="#fff" fill-opacity="0.2"/>
<polygon points="164.05,-20 126.05,20 103.1,45 89.7,60 77.2,74 63.35,88 54.1,96 47.85,102 -45.45,200 -31.35,200 61.55,102 66.7,96 72.65,88 85.4,74 99.5,60 114.6,45 139.15,20 177.15,-20" fill="#fff"/>
</g>
<ellipse cx="224.5" cy="132.5" rx="29" ry="11" fill="url(#g27)" transform="rotate(-27.5 224.5 132.5)"/>
</g></g>
<g stroke="#000" stroke-width="0.65" stroke-dasharray="3 2" fill="none">
<line x1="27.1" y1="130.45" x2="225.6" y2="130.45"/>
<line x1="130.32" y1="7.3" x2="130.32" y2="171.5"/>
<line x1="90.62" y1="130.45" x2="90.62" y2="171.5"/>
</g>
<g stroke="#000" stroke-width="0.9" fill="none">
<rect x="27.1" y="7.3" width="198.5" height="164.2"/>
<line x1="66.8" y1="171.5" x2="66.8" y2="169"/>
<line x1="106.5" y1="171.5" x2="106.5" y2="169"/>
<line x1="146.2" y1="171.5" x2="146.2" y2="169"/>
<line x1="185.9" y1="171.5" x2="185.9" y2="169"/>
<line x1="27.1" y1="130.45" x2="29.6" y2="130.45"/>
<line x1="27.1" y1="89.4" x2="29.6" y2="89.4"/>
<line x1="27.1" y1="48.35" x2="29.6" y2="48.35"/>
</g>
<g class="tk">
<text transform="translate(27.1 181.8) scale(0.84 1)" text-anchor="middle">250</text>
<text transform="translate(66.8 181.8) scale(0.84 1)" text-anchor="middle">300</text>
<text transform="translate(106.5 181.8) scale(0.84 1)" text-anchor="middle">350</text>
<text transform="translate(146.2 181.8) scale(0.84 1)" text-anchor="middle">400</text>
<text transform="translate(185.9 181.8) scale(0.84 1)" text-anchor="middle">450</text>
<text transform="translate(225.6 181.8) scale(0.84 1)" text-anchor="middle">500</text>
<text transform="translate(23.9 174.4) scale(0.84 1)" text-anchor="end">200</text>
<text transform="translate(23.9 133.35) scale(0.84 1)" text-anchor="end">250</text>
<text transform="translate(23.9 92.3) scale(0.84 1)" text-anchor="end">300</text>
<text transform="translate(23.9 51.25) scale(0.84 1)" text-anchor="end">350</text>
<text transform="translate(23.9 10.2) scale(0.84 1)" text-anchor="end">400</text>
</g>
<text class="xl" transform="translate(126.5 192.7) scale(0.84 1)" text-anchor="middle">Em(nm)</text>
<text class="yl" transform="translate(9.6 89) rotate(-90) scale(1 0.84)" text-anchor="middle">Ex(nm)</text>
<g class="rg">
<text transform="translate(58 151.8) scale(0.84 1)" text-anchor="middle">I</text>
<text transform="translate(107.7 151.8) scale(0.84 1)" text-anchor="middle">II</text>
<text transform="translate(168.2 151.8) scale(0.84 1)" text-anchor="middle">III</text>
<text transform="translate(106.3 81.4) scale(0.84 1)" text-anchor="middle">IV</text>
<text transform="translate(178.8 81.6) scale(0.84 1)" text-anchor="middle">V</text>
</g>
<text class="pl" style="font-size:18.2px" transform="translate(219 26.2) scale(0.79 1)" text-anchor="middle">C</text>
<rect x="232.4" y="7.3" width="18.4" height="164.5" fill="url(#cbC)"/>
<rect x="232.4" y="7.3" width="18.4" height="164.5" fill="none" stroke="#000" stroke-width="0.9"/>
<g stroke="#000" stroke-width="0.8">
<line x1="250.8" y1="9.8" x2="253" y2="9.8"/>
<line x1="250.8" y1="25.76" x2="253" y2="25.76"/>
<line x1="250.8" y1="41.72" x2="253" y2="41.72"/>
<line x1="250.8" y1="57.68" x2="253" y2="57.68"/>
<line x1="250.8" y1="73.64" x2="253" y2="73.64"/>
<line x1="250.8" y1="89.6" x2="253" y2="89.6"/>
<line x1="250.8" y1="105.56" x2="253" y2="105.56"/>
<line x1="250.8" y1="121.52" x2="253" y2="121.52"/>
<line x1="250.8" y1="137.48" x2="253" y2="137.48"/>
<line x1="250.8" y1="153.44" x2="253" y2="153.44"/>
<line x1="250.8" y1="169.4" x2="253" y2="169.4"/>
</g><g class="tk">
<text transform="translate(256.6 12.8) scale(0.84 1)" text-anchor="start">10000</text>
<text transform="translate(256.6 28.76) scale(0.84 1)" text-anchor="start">9000</text>
<text transform="translate(256.6 44.72) scale(0.84 1)" text-anchor="start">8000</text>
<text transform="translate(256.6 60.68) scale(0.84 1)" text-anchor="start">7000</text>
<text transform="translate(256.6 76.64) scale(0.84 1)" text-anchor="start">6000</text>
<text transform="translate(256.6 92.6) scale(0.84 1)" text-anchor="start">5000</text>
<text transform="translate(256.6 108.56) scale(0.84 1)" text-anchor="start">4000</text>
<text transform="translate(256.6 124.52) scale(0.84 1)" text-anchor="start">3000</text>
<text transform="translate(256.6 140.48) scale(0.84 1)" text-anchor="start">2000</text>
<text transform="translate(256.6 156.44) scale(0.84 1)" text-anchor="start">1000</text>
<text transform="translate(256.6 172.4) scale(0.84 1)" text-anchor="start">0.000</text>
</g>
</g><g transform="translate(276 204.3)">
<g clip-path="url(#plotclip)"><g filter="url(#cm)">
<rect x="-20" y="-30" width="300" height="250" fill="#000"/>
<polygon points="170.6,-20 260,-20 260,200 -38.4,200" fill="#fff" fill-opacity="0.04"/>
<ellipse cx="140" cy="127" rx="234" ry="36.4" fill="url(#g28)"/>
<ellipse cx="96" cy="120" rx="88.4" ry="54.6" fill="url(#g29)"/>
<ellipse cx="89" cy="107" rx="46.8" ry="22.1" fill="url(#g30)"/>
<ellipse cx="92" cy="129" rx="46.8" ry="24.7" fill="url(#g31)"/>
<ellipse cx="90" cy="117" rx="36.4" ry="36.4" fill="url(#g32)"/>
<ellipse cx="68" cy="113" rx="26" ry="15.6" fill="url(#g33)" transform="rotate(-35 68 113)"/>
<ellipse cx="160" cy="75" rx="67.6" ry="109.2" fill="url(#g34)" transform="rotate(-20 160 75)"/>
<ellipse cx="150" cy="112" rx="78" ry="36.4" fill="url(#g35)"/>
<ellipse cx="114" cy="70" rx="33.8" ry="67.6" fill="url(#g36)" transform="rotate(44 114 70)"/>
<rect x="20" y="134" width="215" height="45" fill="url(#dkb)"/>
<rect x="192" y="0" width="40" height="180" fill="url(#dkr)"/>
<g filter="url(#bf)">
<polygon points="159.5,-20 121.5,20 70.3,74 56.65,88 44.8,100 29.7,115 -51.05,200 -27.35,200 53.4,115 68.4,100 79.35,88 92.3,74 143.7,20 181.7,-20" fill="#fff" fill-opacity="0.2"/>
<polygon points="163.4,-20 125.4,20 73.9,74 60.2,88 48.4,100 33.25,115 -47.5,200 -30.9,200 49.85,115 64.8,100 75.8,88 88.7,74 139.8,20 177.8,-20" fill="#fff"/>
</g>
<ellipse cx="224" cy="132.4" rx="28" ry="9.5" fill="url(#g37)" transform="rotate(-27.5 224 132.4)"/>
</g></g>
<g stroke="#000" stroke-width="0.65" stroke-dasharray="3 2" fill="none">
<line x1="27.1" y1="130.45" x2="225.6" y2="130.45"/>
<line x1="130.32" y1="7.3" x2="130.32" y2="171.5"/>
<line x1="90.62" y1="130.45" x2="90.62" y2="171.5"/>
</g>
<g stroke="#000" stroke-width="0.9" fill="none">
<rect x="27.1" y="7.3" width="198.5" height="164.2"/>
<line x1="66.8" y1="171.5" x2="66.8" y2="169"/>
<line x1="106.5" y1="171.5" x2="106.5" y2="169"/>
<line x1="146.2" y1="171.5" x2="146.2" y2="169"/>
<line x1="185.9" y1="171.5" x2="185.9" y2="169"/>
<line x1="27.1" y1="130.45" x2="29.6" y2="130.45"/>
<line x1="27.1" y1="89.4" x2="29.6" y2="89.4"/>
<line x1="27.1" y1="48.35" x2="29.6" y2="48.35"/>
</g>
<g class="tk">
<text transform="translate(27.1 181.8) scale(0.84 1)" text-anchor="middle">250</text>
<text transform="translate(66.8 181.8) scale(0.84 1)" text-anchor="middle">300</text>
<text transform="translate(106.5 181.8) scale(0.84 1)" text-anchor="middle">350</text>
<text transform="translate(146.2 181.8) scale(0.84 1)" text-anchor="middle">400</text>
<text transform="translate(185.9 181.8) scale(0.84 1)" text-anchor="middle">450</text>
<text transform="translate(225.6 181.8) scale(0.84 1)" text-anchor="middle">500</text>
<text transform="translate(23.9 174.4) scale(0.84 1)" text-anchor="end">200</text>
<text transform="translate(23.9 133.35) scale(0.84 1)" text-anchor="end">250</text>
<text transform="translate(23.9 92.3) scale(0.84 1)" text-anchor="end">300</text>
<text transform="translate(23.9 51.25) scale(0.84 1)" text-anchor="end">350</text>
<text transform="translate(23.9 10.2) scale(0.84 1)" text-anchor="end">400</text>
</g>
<text class="xl" transform="translate(126.5 192.7) scale(0.84 1)" text-anchor="middle">Em(nm)</text>
<text class="yl" transform="translate(9.6 89) rotate(-90) scale(1 0.84)" text-anchor="middle">Ex(nm)</text>
<g class="rg">
<text transform="translate(58 151.8) scale(0.84 1)" text-anchor="middle">I</text>
<text transform="translate(107.7 151.8) scale(0.84 1)" text-anchor="middle">II</text>
<text transform="translate(168.2 151.8) scale(0.84 1)" text-anchor="middle">III</text>
<text transform="translate(106.3 81.4) scale(0.84 1)" text-anchor="middle">IV</text>
<text transform="translate(178.8 81.6) scale(0.84 1)" text-anchor="middle">V</text>
</g>
<text class="pl" style="font-size:17px" transform="translate(218 27.7) scale(0.79 1)" text-anchor="middle">D</text>
<rect x="231.4" y="7.3" width="18.4" height="164.5" fill="url(#cbD)"/>
<rect x="231.4" y="7.3" width="18.4" height="164.5" fill="none" stroke="#000" stroke-width="0.9"/>
<g stroke="#000" stroke-width="0.8">
<line x1="249.8" y1="9.2" x2="252" y2="9.2"/>
<line x1="249.8" y1="25.2" x2="252" y2="25.2"/>
<line x1="249.8" y1="41.2" x2="252" y2="41.2"/>
<line x1="249.8" y1="57.2" x2="252" y2="57.2"/>
<line x1="249.8" y1="73.2" x2="252" y2="73.2"/>
<line x1="249.8" y1="89.2" x2="252" y2="89.2"/>
<line x1="249.8" y1="105.2" x2="252" y2="105.2"/>
<line x1="249.8" y1="121.2" x2="252" y2="121.2"/>
<line x1="249.8" y1="137.2" x2="252" y2="137.2"/>
<line x1="249.8" y1="153.2" x2="252" y2="153.2"/>
<line x1="249.8" y1="169.2" x2="252" y2="169.2"/>
</g><g class="tk">
<text transform="translate(255.6 12.2) scale(0.84 1)" text-anchor="start">10000</text>
<text transform="translate(255.6 28.2) scale(0.84 1)" text-anchor="start">9000</text>
<text transform="translate(255.6 44.2) scale(0.84 1)" text-anchor="start">8000</text>
<text transform="translate(255.6 60.2) scale(0.84 1)" text-anchor="start">7000</text>
<text transform="translate(255.6 76.2) scale(0.84 1)" text-anchor="start">6000</text>
<text transform="translate(255.6 92.2) scale(0.84 1)" text-anchor="start">5000</text>
<text transform="translate(255.6 108.2) scale(0.84 1)" text-anchor="start">4000</text>
<text transform="translate(255.6 124.2) scale(0.84 1)" text-anchor="start">3000</text>
<text transform="translate(255.6 140.2) scale(0.84 1)" text-anchor="start">2000</text>
<text transform="translate(255.6 156.2) scale(0.84 1)" text-anchor="start">1000</text>
<text transform="translate(255.6 172.2) scale(0.84 1)" text-anchor="start">0.000</text>
</g>
</g>
</svg>
</body></html>
